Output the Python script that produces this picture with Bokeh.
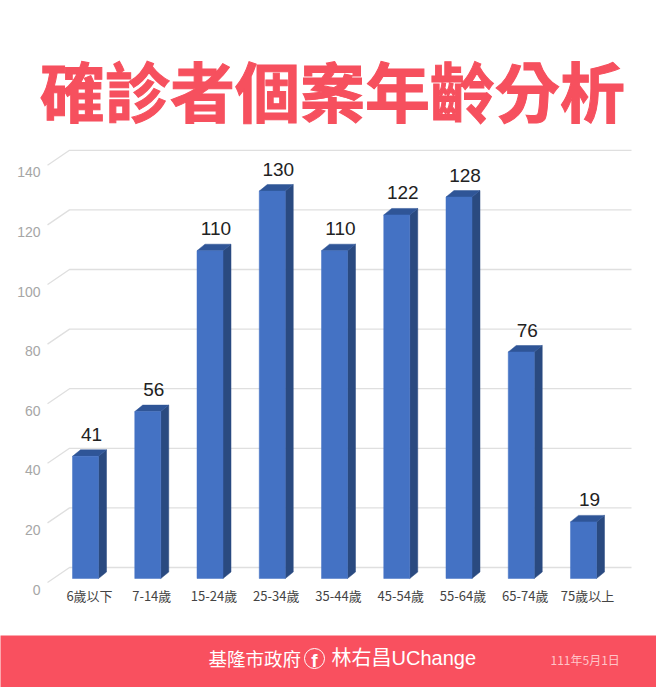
from bokeh.plotting import figure
from bokeh.embed import file_html
from bokeh.resources import INLINE
from bokeh.layouts import column
from bokeh.models import ColumnDataSource, FactorRange, Range1d, LinearAxis, FixedTicker
from bokeh.core.properties import value
from bokeh.transform import dodge

title_text = "確診者個案年齡分析"
ages = ["6歲以下", "7-14歲", "15-24歲", "25-34歲", "35-44歲", "45-54歲", "55-64歲", "65-74歲", "75歲以上"]
cases = [41, 56, 110, 130, 110, 122, 128, 76, 19]
y_ticks = [0, 20, 40, 60, 80, 100, 120, 140]
footer_left = "基隆市政府"
footer_right = "林右昌UChange"
footer_date = "111年5月1日"

W = 656
CJK = "Noto Sans CJK TC"
LAT = "Liberation Sans"
MIXED = '"Liberation Sans", "Noto Sans CJK TC"'
RED = "#F9505F"
TITLE_RED = "#F6505E"

def blank(height, y_top, y_bottom, fill="white"):
    f = figure(width=W, height=height, output_backend="svg", toolbar_location=None,
               x_range=Range1d(0, W), y_range=Range1d(y_bottom, y_top),
               min_border=0, outline_line_color=None, frame_align=False,
               background_fill_color=fill, border_fill_color=fill)
    f.axis.visible = False
    f.grid.visible = False
    return f

# ---- title band (page y 0..140)
head = blank(140, 0, 140)
head.text([332], [88], text=[title_text], text_align="center", text_baseline="middle",
          text_font=value(CJK), text_font_style="bold", text_font_size="65px",
          text_color=TITLE_RED, text_outline_color=TITLE_RED)

# ---- chart (page y 140..635)
PX = 2.98      # pixels per case
PITCH = 62.25  # pixels per category
fig_top, fig_bottom = 140, 635
frame_bottom = 592
y0 = 578       # page y of value 0, front plane
p = figure(width=W, height=fig_bottom - fig_top, output_backend="svg", toolbar_location=None,
           x_range=FactorRange(factors=ages, range_padding=0.207, range_padding_units="absolute"),
           y_range=Range1d((y0 - frame_bottom) / PX, (y0 - fig_top) / PX),
           min_border_left=45, min_border_right=25, min_border_top=0, frame_align=False,
           min_border_bottom=fig_bottom - frame_bottom, outline_line_color=None,
           background_fill_color="white", border_fill_color="white")
p.grid.visible = False
p.xaxis.axis_line_color = None
p.xaxis.major_tick_line_color = None
p.xaxis.minor_tick_line_color = None
p.xaxis.major_label_standoff = -13
p.xaxis.major_label_text_font = CJK
p.xaxis.major_label_text_font_size = "13px"
p.xaxis.major_label_text_color = "#444444"
p.yaxis.visible = False

lab0 = 589     # value-axis labels sit 11px below the front plane of their gridline
p.extra_y_ranges = {"labels": Range1d((lab0 - frame_bottom) / PX, (lab0 - fig_top) / PX)}
ax = LinearAxis(y_range_name="labels", ticker=FixedTicker(ticks=y_ticks),
                axis_line_color=None, major_tick_line_color=None, minor_tick_line_color=None,
                major_label_standoff=-1, major_label_text_font=LAT,
                major_label_text_font_size="14px", major_label_text_color="#A6A6A6")
p.add_layout(ax, "left")

back_dy = 11 / PX
front_dy = -4 / PX
first, last = ages[0], ages[-1]
grid_xs = [[(first, -42 / PITCH), (first, -20 / PITCH), (last, 45 / PITCH)] for _ in y_ticks]
grid_ys = [[v + front_dy, v + back_dy, v + back_dy] for v in y_ticks]
p.multi_line(grid_xs, grid_ys, line_color="#DFDFDF", line_width=1.3)

off = -4 / PITCH
bw = 26 / PITCH
dx = 8 / PITCH
dy = 6.5 / PX
left, right = off - bw / 2, off + bw / 2
side_xs = [[(a, right), (a, right + dx), (a, right + dx), (a, right)] for a in ages]
side_ys = [[0, dy, v + dy, v] for v in cases]
top_xs = [[(a, left), (a, left + dx), (a, right + dx), (a, right)] for a in ages]
top_ys = [[v, v + dy, v + dy, v] for v in cases]
p.patches(side_xs, side_ys, fill_color="#2A4A80", line_color="#2A4A80", line_width=0.5)
p.patches(top_xs, top_ys, fill_color="#2F5597", line_color="#2F5597", line_width=0.5)

src = ColumnDataSource(dict(age=ages, n=cases, t=[str(c) for c in cases]))
p.vbar(x=dodge("age", off, range=p.x_range), top="n", bottom=0, width=bw, source=src,
       fill_color="#4472C4", line_color="#4472C4", line_width=0.5)
p.text(x="age", y="n", text="t", source=src, x_offset=2, y_offset=-22, text_align="center",
       text_baseline="middle", text_font=value(LAT), text_font_size="19px", text_color="#222222")

# ---- footer band (page y 635..687)
foot = blank(52, 635, 687, fill=RED)
def ftext(x, y, text, size, color="white", font=CJK, style="normal", align="left"):
    foot.text([x], [y], text=[text], text_align=align, text_baseline="middle", text_font=value(font),
              text_font_size=size, text_color=color, text_font_style=style)
ftext(208, 657, footer_left, "18.5px")
ftext(331, 657, footer_right, "20px", font=MIXED)
ftext(550, 659, footer_date, "12px", color="#FFC4C8")
foot.circle([314], [658], radius=10, fill_alpha=0, line_color="white", line_width=1)
ftext(314, 660, "f", "19px", font=LAT, style="bold", align="center")

page = column(head, p, foot, spacing=0)
open("out.html", "w").write(file_html(page, INLINE))
